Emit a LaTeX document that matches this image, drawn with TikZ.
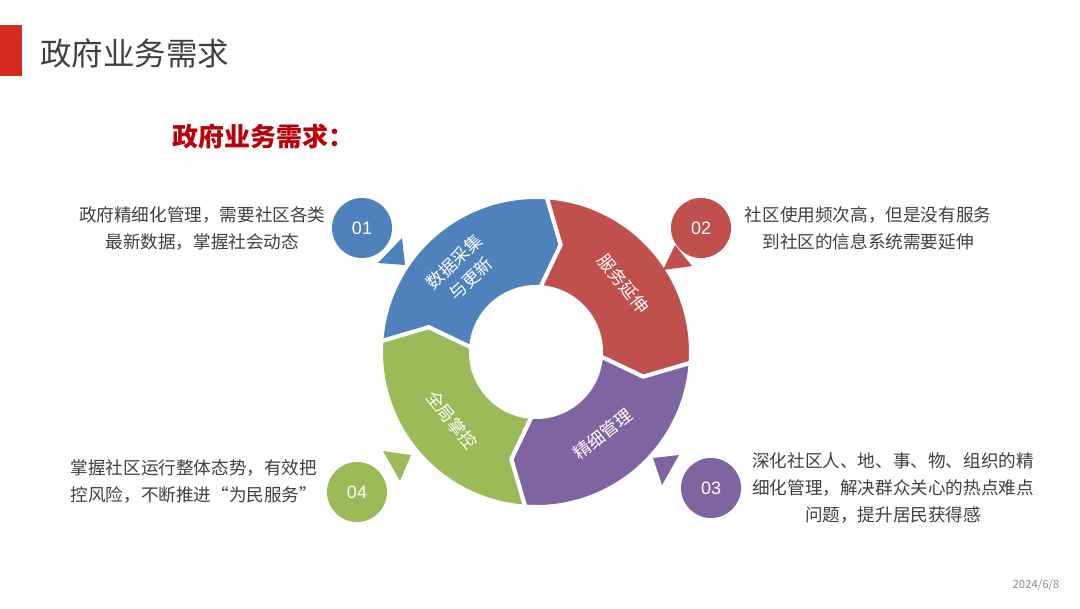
\documentclass[tikz,border=0pt]{standalone}
\usepackage{fontspec}
\setmainfont{Noto Sans CJK SC}
\newfontfamily\numfont{Liberation Sans}
\usepackage{tikz}
\usetikzlibrary{positioning}
\definecolor{segblue}{RGB}{79,129,189}
\definecolor{segred}{RGB}{192,80,77}
\definecolor{segpurple}{RGB}{128,100,162}
\definecolor{seggreen}{RGB}{155,187,89}
\definecolor{barred}{RGB}{213,43,30}
\definecolor{headred}{RGB}{185,0,10}
\definecolor{textgray}{RGB}{64,64,64}
\tikzset{
  ringseg/.style={draw=white,line width=3pt,line join=miter},
  ringtext/.style={text=white,align=center,font=\fontsize{13}{18}\selectfont},
  numbox/.style={
    circle,minimum size=45pt,inner sep=0pt,text=white,
    font=\numfont\fontsize{13.5}{16}\selectfont
  },
  desctext/.style={text=textgray,inner sep=0pt,font=\fontsize{13.2}{20.25}\selectfont}
}

\begin{document}
\begin{tikzpicture}[x=0.75pt,y=0.75pt]
  \useasboundingbox[fill=white] (0,0) rectangle (1080,608);
  \fill[barred] (0,532) rectangle (22,583);
  \node[anchor=west,inner sep=0pt,text=textgray,font=\fontsize{23.6}{26}\selectfont] (title) at (40,555) {政府业务需求};
  \node[anchor=west,inner sep=0pt,text=headred,font=\bfseries\fontsize{19.5}{22}\selectfont] (subtitle) at (172,471) {政府业务需求：};
  \begin{scope}[shift={(536,256)}]
    \foreach \a/\col in {176/segblue,86/segred,-4/segpurple,-94/seggreen}{
      \filldraw[ringseg,fill=\col] (\a:155) arc[start angle=\a,end angle=\a-90,radius=155]
        -- (\a-99:110) -- (\a-90:65) arc[start angle=\a-90,end angle=\a,radius=65]
        -- (\a-9:110) -- cycle;
    }
    \node[ringtext,rotate=44] (seg1) at (132:110) {数据采集\\与更新};
    \node[ringtext,rotate=-52] (seg2) at (38:111) {服务延伸};
    \node[ringtext,rotate=38] (seg3) at (-51:106) {精细管理};
    \node[ringtext,rotate=-51] (seg4) at (219:108) {全局掌控};
  \end{scope}
  \node[numbox,fill=segblue] (n1) at (362,380) {01};
  \node[numbox,fill=segred] (n2) at (701,380) {02};
  \node[numbox,fill=segpurple] (n3) at (711,120) {03};
  \node[numbox,fill=seggreen] (n4) at (357,116) {04};
  \fill[segblue] (402,370) -- (378,345) -- (405,343) -- cycle;
  \fill[segred] (675,363) -- (663,338) -- (692,342) -- cycle;
  \fill[segpurple] (653,150) -- (679,153) -- (662,123) -- cycle;
  \fill[seggreen] (383,157) -- (411,153) -- (400,127) -- cycle;
  \node[desctext,align=center,left=4.5pt of n1] (d1) {政府精细化管理，需要社区各类\\最新数据，掌握社会动态};
  \node[desctext,align=center,right=10pt of n2] (d2) {社区使用频次高，但是没有服务\\到社区的信息系统需要延伸};
  \node[desctext,align=center,right=8pt of n3] (d3) {深化社区人、地、事、物、组织的精\\细化管理，解决群众关心的热点难点\\问题，提升居民获得感};
  \node[desctext,align=left,left=7pt of n4,yshift=8pt] (d4) {掌握社区运行整体态势，有效把\\控风险，不断推进“为民服务”};
  \node[text=black!45,font=\fontsize{8.5}{10}\selectfont] (date) at (1036,23) {2024/6/8};
\end{tikzpicture}
\end{document}
